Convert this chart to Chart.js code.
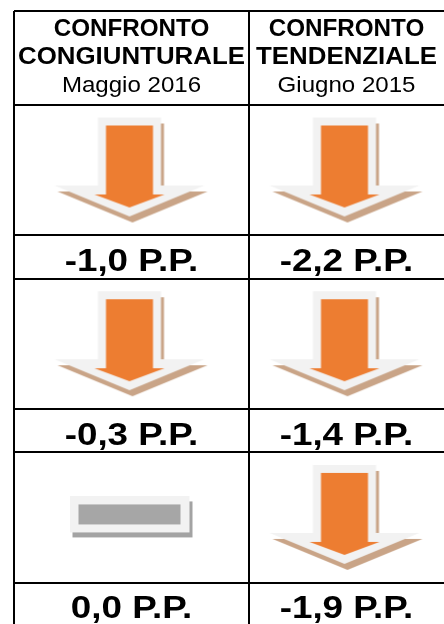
<!DOCTYPE html>
<html>
<head>
<meta charset="utf-8">
<script src="https://cdn.jsdelivr.net/npm/chart.js@4/dist/chart.umd.min.js"></script>
<style>
  html, body { margin: 0; padding: 0; background: #fff; overflow: hidden; }
  #wrap { width: 444px; height: 624px; overflow: hidden; }
</style>
</head>
<body>
<div id="wrap"><canvas id="chart" width="444" height="640"></canvas></div>
<script>
// data
const titles = [['CONFRONTO', 'CONGIUNTURALE'], ['CONFRONTO', 'TENDENZIALE']];
const periods = ['Maggio 2016', 'Giugno 2015'];
const congiunturale = [-1.0, -0.3, 0.0];
const tendenziale = [-2.2, -1.4, -1.9];

// layout (row units on y, fraction of table width on x)
const headerH = 94 / 174;
const iconPart = 0.75;
const split = 235 / 430;
const colCenter = [split / 2, (1 + split) / 2];
const FONT = '"Liberation Sans", Arial, sans-serif';

const fmt = v => v.toFixed(1).replace('.', ',') + ' P.P.';

function makeArrow() {
  const c = document.createElement('canvas');
  c.width = 156; c.height = 107;
  const g = c.getContext('2d');
  const cx = 76;
  const outer = (dx, dy) => {
    g.beginPath();
    g.moveTo(cx - 31.5 + dx, 1 + dy);
    g.lineTo(cx + 31.5 + dx, 1 + dy);
    g.lineTo(cx + 31.5 + dx, 69 + dy);
    g.lineTo(cx + 75 + dx, 69 + dy);
    g.lineTo(cx + dx, 100 + dy);
    g.lineTo(cx - 75 + dx, 69 + dy);
    g.lineTo(cx - 31.5 + dx, 69 + dy);
    g.closePath();
  };
  g.fillStyle = '#c9a487'; outer(3, 6); g.fill();
  g.fillStyle = '#f2f2f2'; outer(0, 0); g.fill();
  g.fillStyle = '#ed7d31';
  g.beginPath();
  g.moveTo(cx - 23.5, 9);
  g.lineTo(cx + 23.5, 9);
  g.lineTo(cx + 23.5, 78);
  g.lineTo(cx + 35, 78);
  g.lineTo(cx, 91);
  g.lineTo(cx - 35, 78);
  g.lineTo(cx - 23.5, 78);
  g.closePath();
  g.fill();
  return c;
}

function makeFlat() {
  const c = document.createElement('canvas');
  c.width = 124; c.height = 42;
  const g = c.getContext('2d');
  g.fillStyle = '#a3a3a3'; g.fillRect(3, 5, 120, 36);
  g.fillStyle = '#f2f2f2'; g.fillRect(0, 0, 120, 36);
  g.fillStyle = '#a6a6a6'; g.fillRect(9, 8, 102, 20);
  return c;
}

const arrowImg = makeArrow();
const flatImg = makeFlat();

const toPoints = (vals, c) => vals.map((v, i) => ({ x: colCenter[c], y: i + iconPart / 2, v: v }));

const textPlugin = {
  id: 'tableText',
  afterDraw(chart) {
    const { ctx, scales: { x, y } } = chart;
    const top = y.getPixelForValue(-headerH);
    const stretched = (text, px, py, font, sx) => {
      ctx.save();
      ctx.translate(px, py);
      ctx.scale(sx, 1);
      ctx.font = font;
      ctx.fillText(text, 0, 0);
      ctx.restore();
    };
    ctx.save();
    ctx.fillStyle = '#000';
    ctx.textAlign = 'center';
    ctx.textBaseline = 'alphabetic';
    titles.forEach((lines, c) => {
      const px = x.getPixelForValue(colCenter[c]);
      stretched(lines[0], px, top + 25, 'bold 23.5px ' + FONT, 1.03);
      stretched(lines[1], px, top + 53, 'bold 23.5px ' + FONT, 1.1);
      stretched(periods[c], px, top + 80.5, '22.5px ' + FONT, 1.07);
    });
    [congiunturale, tendenziale].forEach((vals, c) => {
      const px = x.getPixelForValue(colCenter[c]);
      vals.forEach((v, i) => {
        const py = y.getPixelForValue(i + (1 + iconPart) / 2);
        stretched(fmt(v), px, py + 14, 'bold 32px ' + FONT, 1.15);
      });
    });
    ctx.restore();
  }
};

const iconStyle = ctx => (ctx.raw && ctx.raw.v < 0 ? arrowImg : flatImg);

new Chart(document.getElementById('chart'), {
  type: 'scatter',
  data: {
    datasets: [
      { label: 'Confronto congiunturale', data: toPoints(congiunturale, 0), pointStyle: iconStyle, pointRadius: 5 },
      { label: 'Confronto tendenziale', data: toPoints(tendenziale, 1), pointStyle: iconStyle, pointRadius: 5 }
    ]
  },
  options: {
    responsive: false,
    animation: false,
    events: [],
    layout: { autoPadding: false, padding: { left: 14, top: 11, right: 0, bottom: 14 } },
    plugins: { legend: { display: false }, tooltip: { enabled: false } },
    scales: {
      x: {
        type: 'linear', min: 0, max: 1,
        ticks: { display: false },
        border: { display: false },
        grid: { color: '#000', lineWidth: 2, drawTicks: false },
        afterBuildTicks: s => { s.ticks = [0, split].map(v => ({ value: v })); },
        afterFit: s => { s.height = 0; }
      },
      y: {
        type: 'linear', reverse: true, min: -headerH, max: 3,
        ticks: { display: false },
        border: { display: false },
        grid: { color: '#000', lineWidth: 2, drawTicks: false },
        afterBuildTicks: s => {
          s.ticks = [-headerH, 0, iconPart, 1, 1 + iconPart, 2, 2 + iconPart, 3].map(v => ({ value: v }));
        },
        afterFit: s => { s.width = 0; }
      }
    }
  },
  plugins: [textPlugin]
});
</script>
</body>
</html>
